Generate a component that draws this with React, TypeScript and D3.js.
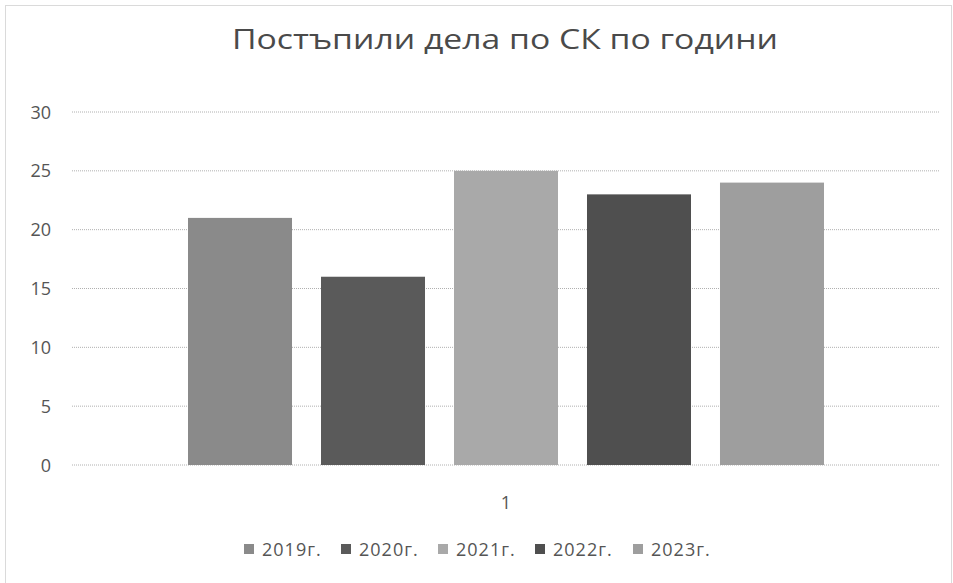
import React from "react";
import * as d3 from "d3";

const categories = ["1"];
const seriesNames = ["2019г.", "2020г.", "2021г.", "2022г.", "2023г."];
const seriesValues = [21, 16, 25, 23, 24];
const seriesColors = ["#8a8a8a", "#5a5a5a", "#a9a9a9", "#4f4f4f", "#9e9e9e"];
const yTicks = [0, 5, 10, 15, 20, 25, 30];
const title = "Постъпили дела по СК по години";

export default function App() {
  const W = 953, H = 583;
  const plotLeft = 72, plotRight = 940, plotTop = 112, plotBottom = 465;
  const y = d3.scaleLinear().domain([0, 30]).range([plotBottom, plotTop]);
  const xCat = d3.scaleBand().domain(categories).range([plotLeft, plotRight]).paddingInner(0).paddingOuter(0.1824);
  const xSer = d3.scaleBand().domain(seriesNames).range([0, xCat.bandwidth()]).paddingInner(0.218).paddingOuter(0);
  const font = "'Open Sans', 'Liberation Sans', sans-serif";
  const legendX = [249, 346, 443, 540, 638];
  return (
    <svg width={W} height={H} style={{ position: "absolute", left: 0, top: 0, background: "#fff" }}>
      <rect x={5.5} y={5.5} width={W - 7} height={H - 5} fill="#fff" stroke="#b5b5b5" strokeDasharray="1,1" />
      <text x={505} y={49} textAnchor="middle" fontFamily={font} fontSize={27} fill="#4a4a4a" textLength={546} lengthAdjust="spacingAndGlyphs">{title}</text>
      {yTicks.map(t => (
        <g key={t}>
          <line x1={plotLeft} x2={plotRight} y1={y(t)} y2={y(t)} stroke="#b0b0b0" strokeDasharray="1,1" />
          <text x={51} y={y(t) + 6.5} textAnchor="end" fontFamily={font} fontSize={18} fill="#555">{t}</text>
        </g>
      ))}
      {categories.map(c => (
        <g key={c} transform={`translate(${xCat(c)},0)`}>
          {seriesNames.map((s, i) => (
            <rect key={s} x={xSer(s)} y={y(seriesValues[i])} width={xSer.bandwidth()} height={plotBottom - y(seriesValues[i])} fill={seriesColors[i]} />
          ))}
          <text x={xCat.bandwidth() / 2} y={509} textAnchor="middle" fontFamily={font} fontSize={18} fill="#555">{c}</text>
        </g>
      ))}
      {seriesNames.map((s, i) => (
        <g key={s} transform={`translate(${legendX[i]},549)`}>
          <rect x={-5} y={-5} width={10} height={10} fill={seriesColors[i]} />
          <text x={13} y={6.5} fontFamily={font} fontSize={18} letterSpacing={1} fill="#555">{s}</text>
        </g>
      ))}
    </svg>
  );
}
